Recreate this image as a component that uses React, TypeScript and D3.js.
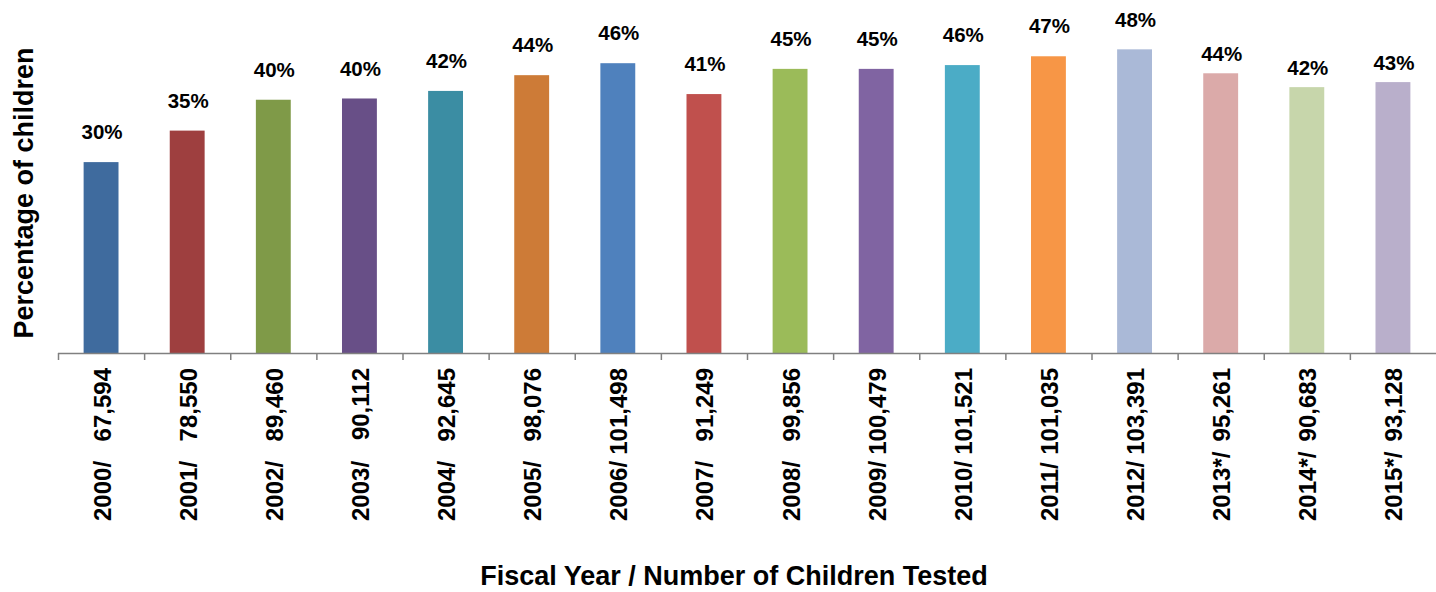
import React from "react";
import * as d3 from "d3";

const years = ["2000", "2001", "2002", "2003", "2004", "2005", "2006", "2007", "2008", "2009", "2010", "2011", "2012", "2013*", "2014*", "2015*"];
const childrenTested = ["67,594", "78,550", "89,460", "90,112", "92,645", "98,076", "101,498", "91,249", "99,856", "100,479", "101,521", "101,035", "103,391", "95,261", "90,683", "93,128"];
const percentages = [30.3, 35.3, 40.2, 40.4, 41.6, 44.1, 46.0, 41.1, 45.1, 45.1, 45.7, 47.1, 48.2, 44.4, 42.2, 43.0];
const barColors = ["#3F6B9E", "#9E3F3F", "#7F9A48", "#684F87", "#3B8DA3", "#CD7B37", "#4F81BD", "#C0504D", "#9BBB59", "#8064A2", "#4BACC6", "#F79646", "#AAB9D7", "#DBAAA9", "#C7D6AB", "#B9AFCB"];

const W = 1436;
const H = 592;
const FONT = "'Liberation Sans', Arial, sans-serif";

export default function App() {
  const x = d3.scaleBand<string>().domain(years).range([58, 1436]).padding(0);
  const y = d3.scaleLinear().domain([0, 50]).range([353, 38]);
  const bw = x.bandwidth() * 0.405;
  const ticks = years.map((yr) => x(yr)!);

  return (
    <svg width={W} height={H} style={{ position: "absolute", left: 0, top: 0, display: "block", background: "#fff" }} fontFamily={FONT}>
      {years.map((yr, i) => {
        const cx = x(yr)! + x.bandwidth() / 2;
        const top = y(percentages[i]);
        const lift = yr.includes("*") ? 19 : 30;
        return (
          <g key={yr}>
            <rect x={cx - bw / 2} y={top} width={bw} height={y(0) - top} fill={barColors[i]} />
            <text x={cx + 1} y={top - lift} dy="0.35em" textAnchor="middle" fontSize={20.5} fontWeight="bold" fill="#000">
              {d3.format(".0f")(percentages[i]) + "%"}
            </text>
            <text transform={`translate(${cx + 9.5},368) rotate(-90)`} textAnchor="end" fontSize={24} fontWeight="bold" fill="#000">
              {childrenTested[i]}
            </text>
            <text transform={`translate(${cx + 9.5},521) rotate(-90)`} textAnchor="start" fontSize={24} fontWeight="bold" fill="#000">
              {yr + "/"}
            </text>
          </g>
        );
      })}
      <line x1={58} x2={1436} y1={353.5} y2={353.5} stroke="#808080" strokeWidth={1.5} />
      {ticks.map((t, i) => (
        <line key={i} x1={t + 0.5} x2={t + 0.5} y1={353} y2={360} stroke="#808080" strokeWidth={1.5} />
      ))}
      <text transform="translate(33,193) rotate(-90)" textAnchor="middle" fontSize={27} fontWeight="bold" fill="#000">
        Percentage of children
      </text>
      <text x={734} y={585} textAnchor="middle" fontSize={27} fontWeight="bold" fill="#000">
        Fiscal Year / Number of Children Tested
      </text>
    </svg>
  );
}
